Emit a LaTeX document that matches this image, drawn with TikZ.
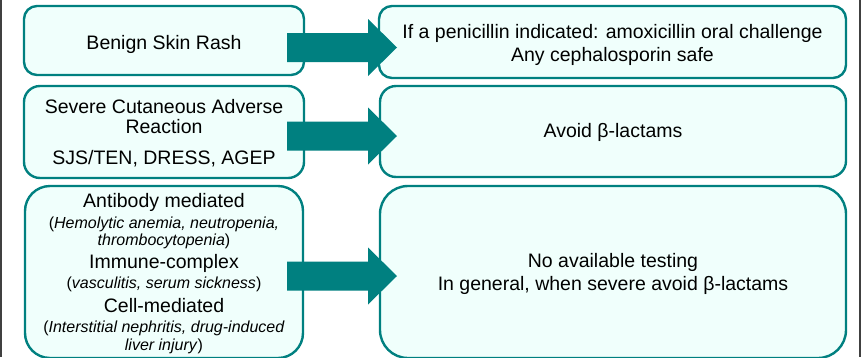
\documentclass[tikz,border=0pt]{standalone}
\usepackage{fontspec}
\setmainfont{Liberation Sans}
\usetikzlibrary{calc}
\definecolor{tealb}{RGB}{0,128,128}
\definecolor{mint}{RGB}{240,255,252}
\definecolor{edgegray}{RGB}{64,64,64}
\newcommand\blockarrow[2]{%
  \fill[tealb] ($(#1)+(0,-14.5)$) -- ($(#2)+(-29,-14.5)$) -- ($(#2)+(-29,-28.5)$) -- (#2)
    -- ($(#2)+(-29,28.5)$) -- ($(#2)+(-29,14.5)$) -- ($(#1)+(0,14.5)$) -- cycle;}
\begin{document}
\begin{tikzpicture}[x=1pt,y=-1pt,
  box/.style={draw=tealb, fill=mint, line width=2.4pt, inner sep=0pt},
  big/.style={font=\fontsize{19.5}{22}\selectfont, anchor=base, inner sep=0pt},
  small/.style={font=\fontsize{16}{18}\selectfont, anchor=base, inner sep=0pt}]
\useasboundingbox (0,0) rectangle (862,357);
\fill[white] (0,0) rectangle (862,357);
% boxes
\node[box, minimum width=280pt, minimum height=69pt, rounded corners=13pt] (L1) at (164,40.5) {};
\node[box, minimum width=467pt, minimum height=72pt, rounded corners=13pt] (R1) at (612.5,42) {};
\node[box, minimum width=280pt, minimum height=92pt, rounded corners=16pt] (L2) at (164,132) {};
\node[box, minimum width=466pt, minimum height=91pt, rounded corners=16pt] (R2) at (613,131.5) {};
\node[box, minimum width=278pt, minimum height=172pt, rounded corners=25pt] (L3) at (164,272) {};
\node[box, minimum width=466pt, minimum height=172pt, rounded corners=28pt] (R3) at (613,272) {};
% arrows
\coordinate (a1s) at (287,47.5); \coordinate (a1t) at (397,47.5);
\coordinate (a2s) at (287,136);  \coordinate (a2t) at (397,136);
\coordinate (a3s) at (287,276);  \coordinate (a3t) at (397,276);
\blockarrow{a1s}{a1t}
\blockarrow{a2s}{a2t}
\blockarrow{a3s}{a3t}
% texts
\node[big] (t1) at (164,49) {Benign Skin Rash};
\node[big] (t2a) at (612.5,38) {If a penicillin indicated: amoxicillin oral challenge};
\node[big] (t2b) at (612.5,61) {Any cephalosporin safe};
\node[big] (t3a) at (164,113) {Severe Cutaneous Adverse};
\node[big] (t3b) at (164,133) {Reaction};
\node[big] (t3c) at (164,164) {SJS/TEN, DRESS, AGEP};
\node[big] (t4) at (613,137) {Avoid β-lactams};
\node[big] (t5a) at (164,207) {Antibody mediated};
\node[small] (t5b) at (164,228) {(\textit{Hemolytic anemia, neutropenia,}};
\node[small] (t5c) at (164,245) {\textit{thrombocytopenia})};
\node[big] (t5d) at (164,268) {Immune-complex};
\node[small] (t5e) at (164,288) {(\textit{vasculitis, serum sickness})};
\node[big] (t5f) at (164,312) {Cell-mediated};
\node[small] (t5g) at (164,332) {(\textit{Interstitial nephritis, drug-induced}};
\node[small] (t5h) at (164,350) {\textit{liver injury})};
\node[big] (t6a) at (613,267) {No available testing};
\node[big] (t6b) at (613,290) {In general, when severe avoid β-lactams};
% frame edges
\draw[edgegray, line width=2pt] (1,0) -- (1,357);
\draw[edgegray, line width=2pt] (860,0) -- (860,357);
\end{tikzpicture}
\end{document}
